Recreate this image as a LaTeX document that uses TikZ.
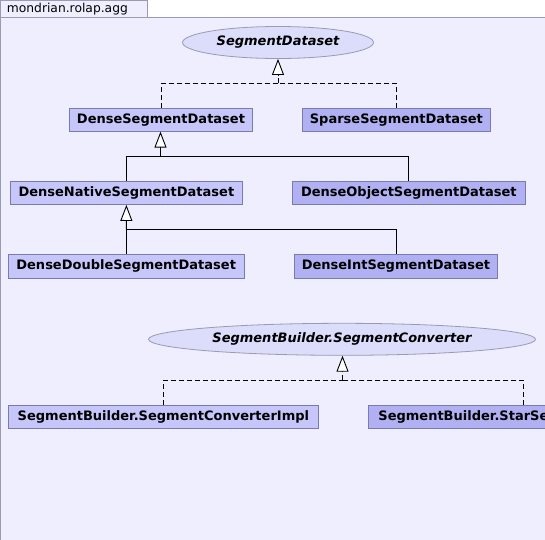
\documentclass[tikz,border=0pt]{standalone}
\usepackage{fontspec}
\setmainfont{DejaVu Sans}
\usetikzlibrary{arrows.meta,shapes.geometric}
\definecolor{pagebg}{HTML}{EEEEFF}
\definecolor{framegray}{HTML}{9A9AB4}
\definecolor{clslight}{HTML}{C6C6FA}
\definecolor{clsdark}{HTML}{B0B0F2}
\definecolor{ifacefill}{HTML}{DCDCFB}
\definecolor{clsborder}{HTML}{7A7AB0}
\tikzset{
	cls/.style={draw=clsborder, fill=clslight, line width=0.8pt, minimum height=23pt,
		inner sep=0pt, font=\fontsize{13}{15}\selectfont\bfseries},
	leaf/.style={cls, fill=clsdark},
	iface/.style={ellipse, draw=framegray, fill=ifacefill, line width=0.8pt, minimum height=32pt,
		inner sep=0pt, font=\fontsize{13}{15}\selectfont\bfseries\itshape},
	inherit/.style={line width=0.9pt, -{Triangle[open, fill=white, length=16pt, width=12pt]}},
	realize/.style={inherit, dash pattern=on 5pt off 3pt}
}
\begin{document}
\begin{tikzpicture}[x=1pt, y=-1pt]
		\useasboundingbox (0, 0) rectangle (545, 539);
		\clip (0, 0) rectangle (545, 539);
		% package frame and tab
		\fill[white] (0, 0) rectangle (545, 539);
		\draw[framegray, fill=pagebg] (0.5, 17) rectangle (700, 700);
		\draw[framegray, fill=pagebg] (0.5, 0.5) rectangle (147.4, 17);
		\node[anchor=west, inner sep=0pt, font=\fontsize{12.3}{14}\selectfont] (pkg) at (6.7, 9) {mondrian.rolap.agg};

		% SegmentDataset hierarchy
		\node[iface, minimum width=191pt] (ds) at (278, 42.5) {SegmentDataset};
		\node[cls, minimum width=183pt] (dense) at (161, 119.7) {DenseSegmentDataset};
		\node[leaf, minimum width=188pt] (sparse) at (396.4, 119.7) {SparseSegmentDataset};
		\node[cls, minimum width=232pt] (native) at (126.4, 193) {DenseNativeSegmentDataset};
		\node[leaf, minimum width=233.5pt] (object) at (408.8, 193) {DenseObjectSegmentDataset};
		\node[cls, minimum width=236.3pt, minimum height=24pt] (double) at (126.2, 266.3) {DenseDoubleSegmentDataset};
		\node[leaf, minimum width=203.3pt, minimum height=24pt] (int) at (396, 266.3) {DenseIntSegmentDataset};

		\coordinate (j1) at (278, 83.3);
		\coordinate (j2) at (160.5, 156);
		\coordinate (j3) at (126.3, 229.3);
		\draw[realize] (j1) -- (ds.south);
		\draw[realize, -] (dense.north) |- (j1);
		\draw[realize, -] (sparse.north) |- (j1);
		\draw[inherit] (j2) -- (dense.south -| j2);
		\draw[inherit, -] (native.north) |- (j2);
		\draw[inherit, -] (object.north) |- (j2);
		\draw[inherit] (j3) -- (native.south);
		\draw[inherit, -] (double.north) |- (j3);
		\draw[inherit, -] (int.north) |- (j3);

		% SegmentConverter hierarchy
		\node[iface, minimum width=387pt] (conv) at (342, 339.3) {SegmentBuilder.SegmentConverter};
		\node[cls, minimum width=310pt] (impl) at (163.4, 416.8) {SegmentBuilder.SegmentConverterImpl};
		\node[leaf, minimum width=310pt] (star) at (523.4, 416.8) {SegmentBuilder.StarSegmentConverter};

		\coordinate (j4) at (342.5, 380.3);
		\draw[realize] (j4) -- (conv.south -| j4);
		\draw[realize, -] (impl.north) |- (j4);
		\draw[realize, -] (star.north) |- (j4);
	\end{tikzpicture}
\end{document}
